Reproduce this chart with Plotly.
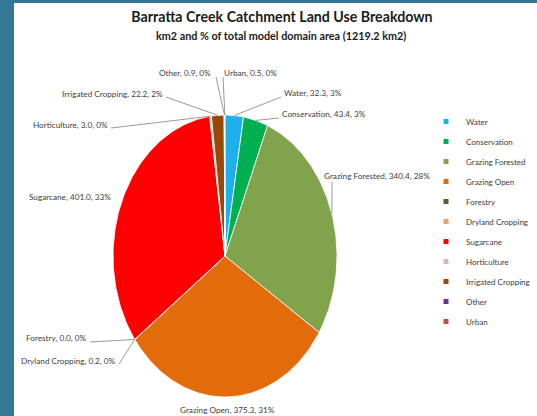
import numpy as np
import plotly.graph_objects as go

# Land use classes, areas (km2) and displayed share of the model domain
categories = ["Water", "Conservation", "Grazing Forested", "Grazing Open", "Forestry",
              "Dryland Cropping", "Sugarcane", "Horticulture", "Irrigated Cropping",
              "Other", "Urban"]
area_km2 = [32.3, 43.4, 340.4, 375.3, 0.0, 0.2, 401.0, 3.0, 22.2, 0.9, 0.5]
share_text = ["3%", "3%", "28%", "31%", "0%", "0%", "33%", "0%", "2%", "0%", "0%"]
colors = ["#1FB0EC", "#00B050", "#80A34C", "#E36C0A", "#4F6228",
          "#EE9E72", "#FF0000", "#E6B0B0", "#984807", "#7030A0", "#C0504D"]

W, H = 537, 416
FONT = "Lato, Liberation Sans, sans-serif"
TXT = "#404040"

# Pie geometry in pixel space (elliptical pie, clockwise from 12 o'clock)
CX, CY, RX, RY = 225, 256, 112, 141

# Label anchor, alignment and leader start point for each class
label_place = {
    "Other":              (213, 73, "right", (216, 77)),
    "Urban":              (222, 73, "left", (223, 77)),
    "Water":              (282, 93, "left", (281, 97)),
    "Conservation":       (280, 114, "left", (279, 118)),
    "Grazing Forested":   (432, 176, "right", (332, 182)),
    "Grazing Open":       (227, 410, "center", None),
    "Forestry":           (89, 338, "right", (90, 342)),
    "Dryland Cropping":   (118, 361, "right", (119, 364)),
    "Sugarcane":          (113, 197, "right", None),
    "Horticulture":       (110, 125, "right", (111, 128)),
    "Irrigated Cropping": (165, 94, "right", (166, 97)),
}

total = float(np.sum(area_km2))
bounds = np.concatenate([[0.0], np.cumsum(area_km2)]) / total * 2 * np.pi


def ellipse_pt(theta):
    return CX + RX * np.sin(theta), CY - RY * np.cos(theta)


fig = go.Figure()

# Slices
for i, name in enumerate(categories):
    a0, a1 = bounds[i], bounds[i + 1]
    n = max(2, int(np.ceil((a1 - a0) / (2 * np.pi) * 360)) + 1)
    t = np.linspace(a0, a1, n)
    ex, ey = ellipse_pt(t)
    xs = np.concatenate([[CX], ex, [CX]])
    ys = np.concatenate([[CY], ey, [CY]])
    fig.add_trace(go.Scatter(
        x=xs, y=ys, mode="lines", fill="toself", fillcolor=colors[i],
        line=dict(color="white", width=0.8), name=name, legendgroup=name,
        showlegend=False, hoverinfo="text",
        text=f"{name}, {area_km2[i]:.1f}, {share_text[i]}"))

# Leader lines from labels to the outer edge of each slice
lx, ly = [], []
for i, name in enumerate(categories):
    start = label_place[name][3]
    if start is None:
        continue
    mid = 0.5 * (bounds[i] + bounds[i + 1])
    ex, ey = ellipse_pt(mid)
    lx += [start[0], float(ex), None]
    ly += [start[1], float(ey), None]
fig.add_trace(go.Scatter(x=lx, y=ly, mode="lines", line=dict(color="#808080", width=0.8),
                         hoverinfo="skip", showlegend=False))

# Legend entries
for i, name in enumerate(categories):
    fig.add_trace(go.Scatter(
        x=[None], y=[None], mode="markers", name=name, legendgroup=name,
        marker=dict(symbol="square", size=5, color=colors[i])))

# Data labels
for i, name in enumerate(categories):
    x, y, anchor, _ = label_place[name]
    fig.add_annotation(x=x, y=y, xref="x", yref="y", xanchor=anchor, yanchor="middle",
                       text=f"{name}, {area_km2[i]:.1f}, {share_text[i]}",
                       showarrow=False, font=dict(family=FONT, size=8.2, color=TXT))

# Subtitle
fig.add_annotation(x=281 / W, y=1 - 35 / H, xref="paper", yref="paper",
                   xanchor="center", yanchor="middle", showarrow=False,
                   text="<b>km2 and % of total model domain area (1219.2 km2)</b>",
                   font=dict(family=FONT, size=10.8, color="#1A1A1A"))

fig.update_layout(
    width=W, height=H,
    margin=dict(l=0, r=0, t=0, b=0),
    paper_bgcolor="#347895", plot_bgcolor="#347895",
    title=dict(text="<b>Barratta Creek Catchment Land Use Breakdown</b>",
               x=282 / W, xanchor="center", y=1 - 17 / H, yanchor="middle",
               font=dict(family=FONT, size=14.2, color="#1A1A1A")),
    xaxis=dict(range=[0, W], visible=False, fixedrange=True, domain=[0, 1]),
    yaxis=dict(range=[H, 0], visible=False, fixedrange=True, domain=[0, 1]),
    showlegend=True,
    legend=dict(x=426 / W, y=1 - 107 / H, xanchor="left", yanchor="top",
                bgcolor="rgba(0,0,0,0)", font=dict(family=FONT, size=8, color=TXT),
                tracegroupgap=1, itemclick=False, itemdoubleclick=False),
    shapes=[dict(type="rect", xref="x", yref="y", x0=14, x1=W, y0=3, y1=H,
                 fillcolor="white", line=dict(width=0), layer="below")],
)

fig.write_html("out.html")
